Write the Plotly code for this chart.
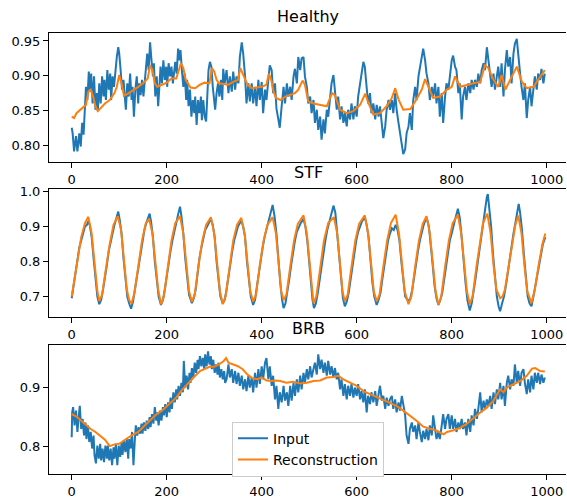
import plotly.graph_objects as go

# ---------------- Healthy ----------------
healthy_in_x = [0,2,5,9,12,16,19,22,25,27,30,33,36,39,41,44,47,50,53,55,58,61,64,67,69,72,75,78,81,83,86,89,92,95,98,100,103,106,109,112,114,117,120,123,126,128,131,134,137,140,142,145,148,151,154,157,159,162,165,168,171,173,176,179,182,185,187,190,193,196,199,201,204,207,210,213,215,218,221,224,227,229,232,235,238,241,243,246,249,252,255,258,260,263,266,269,272,274,277,280,283,286,288,291,294,297,300,302,305,308,311,314,317,319,322,325,
                326,330,333,337,340,344,347,351,354,358,361,365,368,372,375,379,382,386,389,393,396,400,403,407,410,414,417,421,424,428,431,435,438,442,446,449,453,456,460,463,467,470,474,477,481,484,488,491,495,498,502,505,509,512,516,519,523,526,530,533,537,540,544,547,551,554,558,561,565,568,572,575,579,582,586,589,593,596,600,603,607,610,614,617,621,624,628,631,635,639,642,646,649,653,656,660,663,667,670,
                674,677,681,684,688,691,695,698,702,705,709,712,716,719,723,726,730,733,737,740,744,747,751,754,758,761,765,768,772,775,779,782,786,789,793,796,800,803,807,810,814,817,821,824,828,831,835,839,842,846,849,853,856,860,863,867,870,874,877,881,884,888,891,895,898,902,905,909,912,916,919,923,926,930,933,937,940,944,947,951,954,958,961,965,968,972,975,979,982,986,989,993,996]
healthy_in_y = [.825,.817,.791,.813,.791,.817,.798,.832,.815,.846,.884,.865,.906,.877,.903,.860,.899,.851,.875,.849,.889,.860,.899,.870,.894,.865,.908,.880,.903,.865,.899,.884,.913,.927,.941,.932,.908,.880,.894,.858,.851,.889,.870,.903,.865,.884,.841,.880,.899,.860,.889,.872,.894,.870,.899,.913,.932,.908,.948,.922,.899,.918,.870,.899,.856,.889,.913,.889,.922,.894,.913,.884,.918,.899,.913,.889,.899,.920,.903,.939,.922,.937,.908,.884,.903,.865,.894,.856,.880,.841,.865,.846,.870,.829,.865,.846,.870,.836,.865,.841,.834,.875,.908,.920,.913,.884,.865,.851,.875,.889,.870,.894,.865,.910,.889,.903,
                .908,.875,.899,.877,.906,.880,.899,.889,.927,.948,.932,.899,.860,.889,.863,.889,.860,.884,.856,.894,.865,.891,.846,.880,.865,.894,.915,.908,.875,.889,.853,.837,.825,.856,.884,.860,.889,.870,.884,.865,.899,.910,.889,.927,.908,.925,.927,.899,.884,.860,.870,.846,.865,.832,.851,.822,.841,.808,.837,.817,.851,.841,.865,.889,.901,.875,.851,.870,.837,.856,.832,.846,.827,.851,.837,.860,.837,.856,.841,.870,.889,.908,.920,.913,.884,.860,.875,.846,.860,.837,.858,.841,.856,.827,.810,.827,.851,.865,.851,
                .865,.846,.875,.851,.832,.817,.798,.787,.794,.817,.827,.846,.822,.865,.884,.865,.899,.913,.932,.939,.922,.903,.889,.865,.884,.870,.889,.860,.884,.841,.875,.832,.870,.889,.880,.903,.922,.929,.913,.908,.875,.889,.837,.870,.884,.865,.889,.875,.894,.880,.894,.884,.903,.889,.908,.918,.908,.941,.922,.903,.884,.903,.880,.899,.913,.884,.918,.870,.908,.937,.913,.927,.889,.932,.946,.953,.927,.903,.884,.865,.889,.839,.865,.884,.856,.884,.899,.880,.903,.894,.910,.889,.903]

healthy_rec_x = [0,5,10,20,30,35,40,45,50,55,60,70,80,90,95,100,105,110,120,130,140,150,160,165,170,175,180,190,200,210,220,230,235,240,250,260,270,280,290,295,300,305,310,320,330,340,350,355,360,370,380,390,400,410,415,420,425,430,440,450,460,470,477,486,491,498,509,523,537,548,554,565,579,593,607,618,625,635,649,663,674,681,688,698,713,726,737,744,751,761,775,790,800,807,818,832,846,860,870,877,888,898,905,913,923,937,948,958,972,979,989,996]
healthy_rec_y = [.841,.839,.846,.852,.858,.877,.880,.870,.856,.849,.853,.860,.865,.875,.884,.901,.889,.871,.875,.879,.884,.889,.896,.915,.908,.889,.884,.887,.890,.896,.896,.918,.911,.894,.883,.882,.887,.890,.889,.911,.906,.894,.889,.888,.887,.891,.894,.911,.903,.887,.882,.883,.884,.887,.903,.894,.877,.868,.865,.870,.872,.875,.880,.893,.887,.863,.860,.858,.856,.875,.872,.851,.846,.849,.858,.874,.860,.844,.846,.856,.868,.882,.866,.851,.852,.866,.880,.895,.884,.868,.870,.880,.884,.899,.884,.887,.889,.891,.915,.911,.894,.884,.901,.880,.894,.913,.891,.882,.884,.891,.901,.908]

# ---------------- STF ----------------
stf_in_x = [0,4,8,12,16,20,24,28,32,35,38,42,46,50,54,58,62,66,70,74,78,82,86,90,94,98,101,105,109,113,117,121,125,129,133,137,141,145,149,153,157,161,164,167,171,175,179,183,188,192,196,200,204,208,212,216,220,224,228,231,235,239,243,247,253,257,261,265,269,273,277,281,285,289,293,297,301,305,309,313,318,322,326,330,334,338,342,346,350,354,357,361,365,369,373,377,382,386,390,394,398,402,406,410,414,418,423,427,431,435,439,443,446,450,454,458,462,466,470,474,478,482,488,492,496,500,504,507,510,514,518,522,526,530,534,538,542,546,551,555,559,563,567,571,575,579,583,587,591,595,599,603,607,611,617,621,625,629,633,637,642,646,650,654,658,662,666,670,674,678,682,686,690,694,698,702,709,713,717,721,725,729,733,737,741,745,748,752,756,760,764,768,772,776,780,784,788,792,796,800,804,808,813,817,821,825,829,833,838,842,846,850,854,858,862,866,870,874,876,879,883,887,891,895,899,902,906,910,914,918,922,926,930,934,938,941,944,948,952,956,960,964,968,972,976,980,984,988,992,997]
stf_in_y = [.695,.730,.770,.800,.840,.860,.885,.900,.905,.915,.905,.870,.810,.750,.700,.678,.690,.720,.750,.790,.830,.860,.880,.905,.925,.943,.920,.880,.810,.750,.700,.680,.665,.685,.720,.750,.790,.830,.860,.890,.910,.930,.937,.915,.870,.800,.740,.700,.676,.690,.720,.760,.800,.830,.860,.890,.910,.935,.957,.930,.880,.810,.750,.705,.681,.695,.720,.770,.810,.840,.870,.890,.900,.912,.922,.905,.870,.800,.740,.700,.680,.690,.720,.760,.800,.830,.860,.880,.900,.910,.918,.900,.870,.800,.740,.700,.676,.690,.730,.770,.810,.840,.870,.895,.915,.935,.962,.930,.880,.800,.740,.690,.667,.680,.710,.750,.790,.830,.860,.885,.900,.910,.922,.900,.860,.790,.730,.690,.667,.680,.710,.750,.790,.830,.860,.890,.910,.935,.960,.940,.880,.810,.740,.695,.672,.685,.710,.750,.790,.830,.860,.885,.900,.915,.927,.905,.870,.800,.740,.700,.676,.690,.710,.750,.790,.830,.860,.880,.895,.890,.905,.890,.860,.800,.740,.700,.686,.695,.720,.760,.800,.830,.860,.885,.905,.920,.922,.900,.850,.790,.730,.695,.676,.690,.710,.750,.790,.830,.860,.880,.905,.925,.951,.925,.870,.800,.740,.690,.660,.680,.710,.750,.790,.830,.870,.910,.950,.985,.993,.960,.900,.820,.750,.700,.670,.658,.680,.700,.730,.770,.810,.850,.880,.910,.945,.965,.940,.890,.820,.750,.700,.680,.672,.700,.730,.770,.800,.830,.850,.870]

stf_rec_x = [0,10,20,28,35,42,48,54,58,64,72,80,88,97,104,110,116,121,126,132,140,148,156,163,170,176,182,188,194,202,210,218,228,235,241,247,253,259,267,275,283,293,300,306,312,318,324,332,340,348,357,364,370,376,382,388,396,404,412,423,430,436,441,446,452,460,468,476,488,495,501,506,509,515,523,531,540,552,559,565,570,575,581,589,597,605,617,624,630,636,642,648,656,664,672,682,689,695,701,709,715,723,731,739,747,754,760,766,772,778,786,794,802,813,820,826,832,838,844,852,860,866,875,882,888,894,902,907,912,920,928,934,940,947,953,959,968,975,983,991,997]
stf_rec_y = [.700,.790,.870,.910,.928,.880,.790,.715,.687,.705,.780,.850,.905,.930,.890,.800,.720,.690,.680,.710,.790,.860,.910,.922,.880,.790,.720,.678,.700,.780,.860,.910,.930,.880,.790,.715,.685,.705,.790,.860,.905,.927,.880,.790,.715,.678,.700,.780,.860,.905,.925,.880,.790,.715,.685,.705,.790,.860,.905,.927,.880,.790,.715,.690,.705,.785,.860,.908,.932,.880,.790,.715,.681,.700,.780,.860,.910,.927,.880,.790,.715,.686,.705,.785,.860,.908,.932,.880,.790,.715,.686,.705,.785,.860,.910,.934,.880,.790,.715,.678,.700,.785,.860,.908,.930,.880,.790,.715,.676,.700,.785,.860,.910,.934,.880,.790,.715,.678,.700,.785,.860,.910,.937,.880,.790,.720,.695,.700,.720,.790,.860,.905,.932,.880,.790,.715,.681,.720,.790,.850,.880]

# ---------------- BRB ----------------
brb_in_x = [0,1,3,6,9,12,15,17,20,23,26,29,31,34,37,40,43,46,48,51,54,57,60,62,65,68,71,74,76,79,82,85,88,90,93,96,99,102,105,107,110,113,116,119,121,124,127,130,133,135,138,141,144,147,149,152,155,158,161,164,166,169,172,175,178,180,183,186,189,192,194,197,200,203,206,208,211,214,217,220,222,225,228,231,234,236,239,242,245,248,250,253,256,259,262,265,267,270,273,276,279,281,284,287,290,293,295,298,301,304,307,309,312,315,318,321,323,
            326,330,333,337,340,344,347,351,354,358,361,365,368,372,375,379,382,386,389,393,396,400,403,407,410,414,417,421,424,428,431,435,438,442,446,449,453,456,460,463,467,470,474,477,481,484,488,491,495,498,502,505,509,512,516,519,523,526,530,533,537,540,544,547,551,554,558,561,565,568,572,575,579,582,586,589,593,596,600,603,607,610,614,617,621,624,628,631,635,639,642,646,649,653,656,660,663,667,670,
            674,677,681,684,688,691,695,698,702,705,709,712,716,719,723,726,730,733,737,740,744,747,751,754,758,761,765,768,772,775,779,782,786,789,793,796,800,803,807,810,814,817,821,824,828,831,835,839,842,846,849,853,856,860,863,867,870,874,877,881,884,888,891,895,898,902,905,909,912,916,919,923,926,930,933,937,940,944,947,951,954,958,961,965,968,972,975,979,982,986,989,993,996]
brb_in_y = [.816,.858,.867,.836,.861,.825,.853,.869,.830,.847,.819,.841,.813,.836,.808,.825,.797,.819,.786,.772,.802,.780,.805,.777,.797,.774,.802,.780,.802,.777,.797,.769,.799,.780,.805,.769,.802,.783,.808,.786,.811,.791,.813,.780,.813,.797,.825,.769,.813,.836,.819,.833,.822,.839,.822,.841,.827,.844,.830,.850,.833,.855,.839,.867,.844,.858,.836,.861,.844,.867,.853,.872,.850,.875,.858,.883,.864,.892,.875,.897,.880,.903,.886,.908,.892,.945,.900,.920,.897,.925,.908,.933,.917,.942,.925,.947,.931,.953,.936,.950,.931,.956,.936,.961,.939,.953,.931,.947,.925,.939,.922,.942,.917,.931,.914,.928,.908,
            .914,.939,.917,.931,.908,.928,.906,.925,.903,.920,.897,.914,.894,.920,.900,.917,.892,.925,.900,.931,.906,.936,.914,.942,.950,.914,.936,.903,.920,.880,.903,.864,.892,.875,.903,.878,.892,.869,.903,.878,.908,.886,.914,.892,.920,.897,.925,.908,.931,.914,.936,.917,.931,.942,.922,.956,.931,.947,.925,.942,.920,.945,.922,.936,.917,.933,.914,.925,.897,.914,.886,.906,.880,.903,.886,.906,.883,.900,.886,.906,.880,.894,.875,.897,.858,.886,.872,.892,.875,.894,.869,.886,.903,.878,.886,.864,.883,.869,.880,
            .886,.864,.880,.858,.875,.861,.886,.869,.853,.819,.805,.830,.841,.825,.836,.813,.841,.825,.808,.827,.813,.830,.811,.836,.819,.853,.825,.813,.825,.813,.836,.855,.830,.847,.855,.830,.853,.830,.847,.825,.841,.830,.847,.830,.841,.819,.847,.825,.853,.836,.864,.847,.864,.892,.858,.878,.864,.880,.869,.886,.864,.892,.872,.897,.880,.908,.880,.903,.869,.908,.920,.897,.914,.903,.939,.908,.928,.903,.925,.931,.908,.889,.914,.892,.920,.897,.925,.908,.925,.906,.922,.908,.917]

brb_rec_x = [0,10,20,30,40,50,60,70,80,90,100,110,120,130,140,150,160,170,180,190,200,210,220,230,240,250,260,270,280,290,300,310,320,325,330,340,350,360,370,380,390,400,410,420,430,439,452,466,481,495,509,523,537,551,561,572,586,600,614,628,642,656,670,684,698,712,726,740,755,769,783,790,804,818,832,846,860,874,888,902,909,916,930,944,958,969,976,986,996]
brb_rec_y = [.855,.851,.844,.837,.830,.825,.819,.812,.801,.804,.805,.811,.816,.821,.825,.833,.841,.849,.856,.861,.868,.875,.883,.894,.903,.911,.920,.928,.932,.935,.935,.939,.945,.950,.942,.939,.936,.931,.922,.916,.914,.917,.912,.911,.912,.911,.908,.910,.907,.908,.911,.912,.917,.918,.920,.914,.908,.903,.894,.889,.884,.878,.873,.869,.861,.853,.844,.834,.830,.827,.821,.825,.828,.832,.839,.849,.858,.866,.878,.897,.892,.900,.906,.911,.920,.932,.933,.928,.927]

titles = ["Healthy", "STF", "BRB"]
x_ticks = [0, 200, 400, 600, 800, 1000]
y_ticks = [[0.80, 0.85, 0.90, 0.95], [0.7, 0.8, 0.9, 1.0], [0.8, 0.9]]
y_fmt = [".2f", ".1f", ".1f"]
y_ranges = [[0.7757, 0.9614], [0.640, 1.009], [0.7536, 0.9715]]

W, H = 567, 500
x_dom = [49 / W, 566 / W]
y_px = [(29.3, 159.3), (186, 316), (344, 474)]
y_doms = [[1 - b / H, 1 - t / H] for t, b in y_px]

BLUE = "#1f77b4"
ORANGE = "#ff7f0e"
FONT = "DejaVu Sans"

data = [(healthy_in_x, healthy_in_y, healthy_rec_x, healthy_rec_y),
        (stf_in_x, stf_in_y, stf_rec_x, stf_rec_y),
        (brb_in_x, brb_in_y, brb_rec_x, brb_rec_y)]

fig = go.Figure()
for i, (xi, yi, xr, yr) in enumerate(data):
    suf = "" if i == 0 else str(i + 1)
    show = (i == 2)
    fig.add_trace(go.Scatter(x=xi, y=yi, mode="lines", name="Input",
                             line=dict(color=BLUE, width=2), showlegend=show,
                             xaxis="x" + suf, yaxis="y" + suf))
    fig.add_trace(go.Scatter(x=xr, y=yr, mode="lines", name="Reconstruction",
                             line=dict(color=ORANGE, width=2), showlegend=show,
                             xaxis="x" + suf, yaxis="y" + suf))

axis_common = dict(showgrid=False, zeroline=False, showline=True, linecolor="black",
                   linewidth=1, ticks="outside", ticklen=5, tickwidth=1,
                   tickcolor="black", tickfont=dict(family=FONT, size=13, color="black"))
layout = dict(width=W, height=H, margin=dict(l=0, r=0, t=0, b=0),
              paper_bgcolor="white", plot_bgcolor="white",
              font=dict(family=FONT, size=13, color="black"),
              legend=dict(x=232 / W, y=1 - 421 / H, xanchor="left", yanchor="top",
                          bgcolor="white", bordercolor="#cccccc", borderwidth=1,
                          font=dict(family=FONT, size=14), itemwidth=30,
                          tracegroupgap=0),
              annotations=[])
for i in range(3):
    suf = "" if i == 0 else str(i + 1)
    layout["xaxis" + suf] = dict(axis_common, domain=x_dom, range=[-47.8, 1040.6],
                                 tickvals=x_ticks, mirror=True,
                                 anchor="y" + suf)
    layout["yaxis" + suf] = dict(axis_common, domain=y_doms[i], range=y_ranges[i],
                                 tickvals=y_ticks[i], tickformat=y_fmt[i],
                                 anchor="x" + suf)
    layout["annotations"].append(dict(text=titles[i], x=308 / W, y=y_doms[i][1],
                                      xref="paper", yref="paper", xanchor="center",
                                      yanchor="bottom", yshift=5, showarrow=False,
                                      font=dict(family=FONT, size=16, color="black")))
fig.update_layout(**layout)
fig.write_html("out.html", config={"displayModeBar": False},
               post_script="document.body.style.margin='0';document.body.style.overflow='hidden';")
